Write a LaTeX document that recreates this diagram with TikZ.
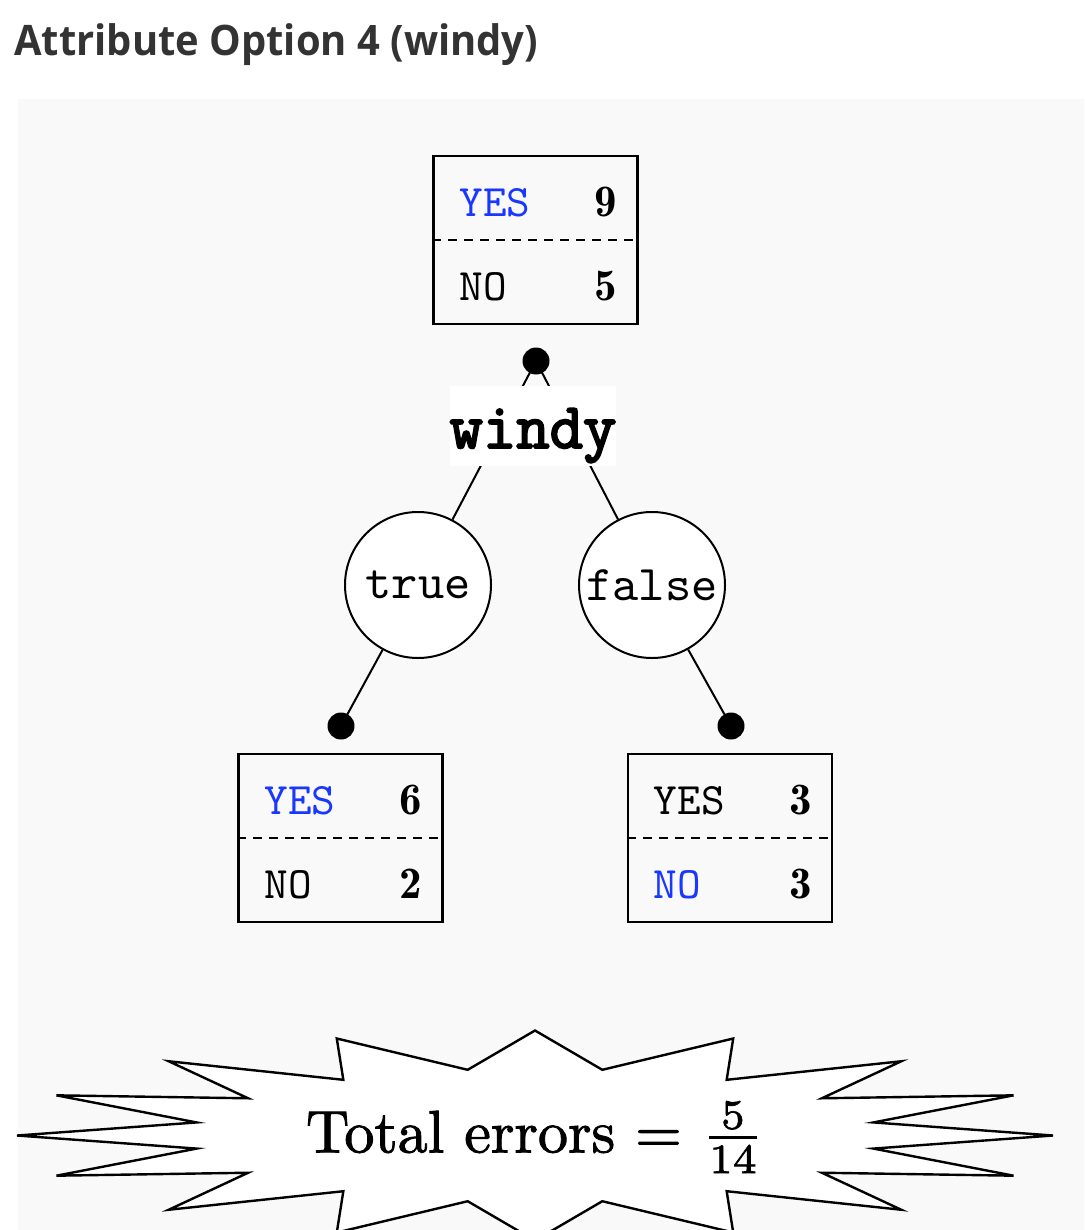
\documentclass[tikz,border=0pt]{standalone}
\usepackage{fontspec}
\usepackage{graphicx}
\usepackage{amsmath}
\newfontfamily\titlefont{Open Sans}
\newfontfamily\errfont{Latin Modern Roman}[FakeBold=1.5]
\newfontfamily\attrfont{Latin Modern Mono}[FakeBold=3]
\usetikzlibrary{positioning}
\definecolor{PanelGray}{RGB}{249,249,249}
\definecolor{TitleGray}{RGB}{51,51,51}
\definecolor{YesBlue}{RGB}{25,55,255}

% one row of a class count box
\newcommand{\tallyrow}[2]{%
  \scalebox{2.25}{\makebox[36.4pt][l]{\hspace*{1.3pt}\ttfamily #1\hfill$\mathbf{#2}$}}}

\begin{document}
\begin{tikzpicture}[x=0.5pt, y=-0.5pt,
          tally/.style={rectangle, draw, line width=1.1pt, minimum width=102pt,
                        minimum height=84pt, inner sep=0pt, align=center,
                        text height=60pt, text depth=0pt,
                        font=\fontsize{10}{42}\selectfont},
          value/.style={circle, draw, fill=white, line width=1pt, minimum size=73pt,
                        inner sep=0pt},
          dot/.style={circle, fill=black, inner sep=0pt, minimum size=13.5pt},
          attr/.style={fill=white, inner sep=0pt, text height=31pt, text depth=9pt},
          link/.style={line width=1pt},
          burst/.style={draw, fill=white, line width=1.2pt}
        ]
        \clip (0,0) rectangle (1084,1230);
        \fill[white] (0,0) rectangle (1084,1230);
        \fill[PanelGray] (18,99) rectangle (1084,1230);

        \node[anchor=base west, text=TitleGray, inner sep=0pt,
              font=\fontsize{21}{26}\selectfont\titlefont\bfseries] (title) at (14,56)
              {\scalebox{0.95}[1]{Attribute Option 4 (windy)}};

        % root counts
        \node[tally] (root) at (535.5,240)
              {\tallyrow{\textcolor{YesBlue}{YES}}{9}\\ \tallyrow{NO}{5}};
        \draw[link, dash pattern=on 4.5pt off 3.5pt] (root.west) -- (root.east);
        \node[dot] (rootdot) at (536,361) {};

        % attribute values
        \node[value] (true)  at (418,585) {\scalebox{2.5}{\ttfamily true}};
        \node[value] (false) at (652,585) {\scalebox{2.5}{\ttfamily false}};
        \node[dot] (truedot)  at (341,726) {};
        \node[dot] (falsedot) at (731,726) {};

        % leaf counts
        \node[tally] (leaftrue)  at (340.5,838)
              {\tallyrow{\textcolor{YesBlue}{YES}}{6}\\ \tallyrow{NO}{2}};
        \node[tally] (leaffalse) at (730,838)
              {\tallyrow{YES}{3}\\ \tallyrow{\textcolor{YesBlue}{NO}}{3}};
        \draw[link, dash pattern=on 4.5pt off 3.5pt] (leaftrue.west) -- (leaftrue.east);
        \draw[link, dash pattern=on 4.5pt off 3.5pt] (leaffalse.west) -- (leaffalse.east);

        \draw[link] (rootdot.center) -- (true);
        \draw[link] (rootdot.center) -- (false);
        \draw[link] (true) -- (truedot.center);
        \draw[link] (false) -- (falsedot.center);

        \node[attr] (windy) at (533,426)
              {\scalebox{2.25}{\Large\attrfont windy}};

        % error burst
        \coordinate (burst) at (535,1135.5);
        \draw[burst, shift={(burst)}] (0:518 and 105)
              \foreach \a in {0,22.5,...,337.5} {
                -- (\a+11.25:345 and 67) -- (\a+22.5:518 and 105)
              } -- cycle;
        \node (errs) at (535,1137)
              {\scalebox{3.0}{\errfont Total errors = $\frac{\text{5}}{\text{14}}$}};
      \end{tikzpicture}
\end{document}
